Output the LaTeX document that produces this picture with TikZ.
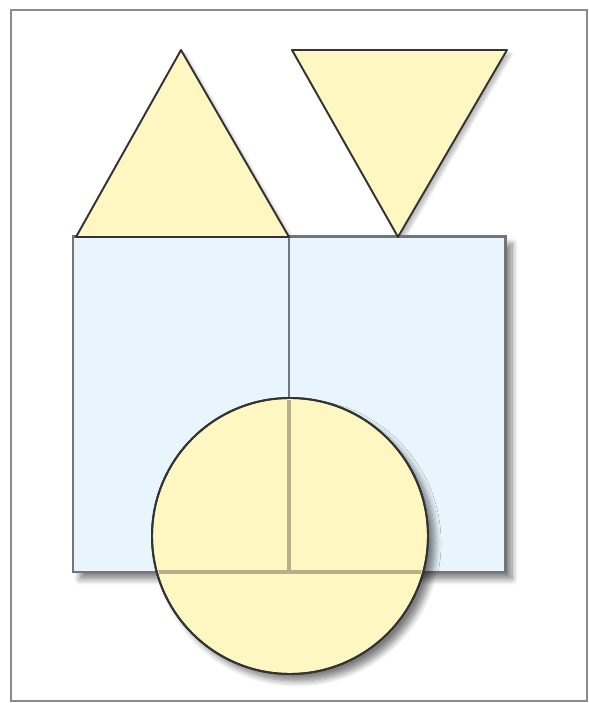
\documentclass[tikz,border=0pt]{standalone}
\usepackage{tikz}
\usetikzlibrary{shadows.blur}

\definecolor{boxblue}{HTML}{E8F5FC}
\definecolor{boxline}{HTML}{727476}
\definecolor{shapeyellow}{HTML}{FFF7C2}
\definecolor{shapeline}{HTML}{333333}
\definecolor{seenline}{HTML}{B5B08A}
\definecolor{frameline}{HTML}{8A8A8A}

\begin{document}
\begin{tikzpicture}[
  frm/.style={draw=frameline, line width=1.1pt},
  blk/.style={draw=boxline, fill=boxblue, line width=1.7pt,
              blur shadow={shadow xshift=0.14cm, shadow yshift=-0.14cm,
                           shadow blur steps=8, shadow blur radius=0.8ex,
                           shadow opacity=50}},
  tri/.style={draw=shapeline, fill=shapeyellow, line width=1.1pt,
              line join=round},
  trishade/.style={fill=white,
              blur shadow={shadow xshift=0.08cm, shadow yshift=-0.08cm,
                           shadow blur steps=6, shadow opacity=25}},
  disc/.style={draw=shapeline, fill=shapeyellow, line width=1.1pt,
               blur shadow={shadow xshift=0.14cm, shadow yshift=-0.14cm,
                            shadow blur steps=8, shadow blur radius=0.8ex,
                            shadow opacity=50}},
  seen/.style={draw=seenline, line width=1.9pt},
]

%% ---- Picture size
\useasboundingbox (0,0) rectangle (11.78,14.06);

%% ---- Columns and rows
\def\xl{1.46}  % left edge
\def\xm{5.78}  % middle
\def\xr{10.10} % right edge
\def\yt{9.32}  % top of boxes
\def\yb{2.62}  % bottom of boxes

%% ======== Frame ========
\draw[frm] (0.22,0.04) rectangle (11.74,13.86);

%% ---- triangle shadows go under the boxes
\path[trishade] (1.52,\yt) -- (3.62,13.06) -- (\xm,\yt) -- cycle;
\path[trishade] (5.84,13.06) -- (10.14,13.06) -- (7.96,\yt) -- cycle;

%% ======== Boxes ========
\draw[blk] (\xl,\yb) rectangle (\xm,\yt);
\draw[blk] (\xm,\yb) rectangle (\xr,\yt);

%% ======== Triangles ========
\draw[tri] (1.52,\yt) -- (3.62,13.06) -- (\xm,\yt) -- cycle;
\draw[tri] (5.84,13.06) -- (10.14,13.06) -- (7.96,\yt) -- cycle;

%% ======== Circle (box edges seen through it) ========
\draw[disc] (5.80,3.34) circle (2.76);
\begin{scope}
  \clip (5.80,3.34) circle (2.72);
  \draw[seen] (\xm,\yt) -- (\xm,\yb);
  \draw[seen] (\xl,\yb) -- (\xr,\yb);
\end{scope}
\draw[draw=shapeline, line width=1.1pt] (5.80,3.34) circle (2.76);

\end{tikzpicture}
\end{document}
